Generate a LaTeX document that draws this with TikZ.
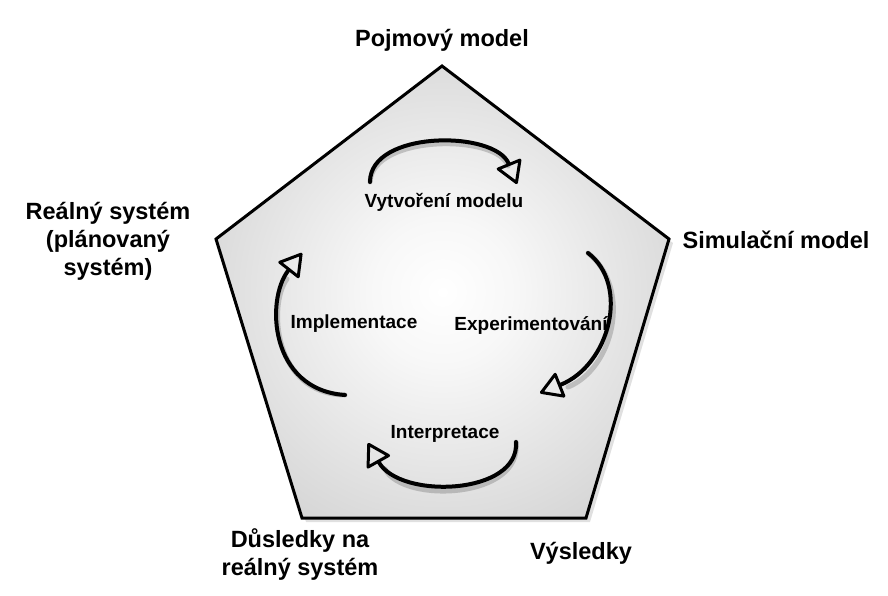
\documentclass[tikz,border=0pt]{standalone}
\usepackage{fontspec}
\setmainfont{Liberation Sans}
\usetikzlibrary{arrows.meta,shadows}
\definecolor{edgegray}{RGB}{178,178,178}
\pgfdeclareradialshading{pentshade}{\pgfpoint{0bp}{0bp}}{color(0bp)=(white); color(8bp)=(white!97!black); color(52bp)=(edgegray); color(100bp)=(edgegray)}
\tikzset{
  outer/.style={font=\fontsize{23.5}{28}\selectfont\bfseries, align=center, inner sep=0pt},
  inner/.style={font=\fontsize{19}{22}\selectfont\bfseries, inner sep=0pt},
  cyc/.style={line width=4pt, line cap=round, -{Triangle[open, length=24pt, width=28pt, line width=3pt, round]}},
  cycshadow/.style={line width=5pt, line cap=round, black, opacity=0.18},
}
\begin{document}
\begin{tikzpicture}[x=1pt,y=-1pt]
\useasboundingbox (0,0) rectangle (888,595);
% pentagon corners
\coordinate (T) at (442,66);
\coordinate (R) at (669,239);
\coordinate (BR) at (586,518);
\coordinate (BL) at (302,518);
\coordinate (L) at (216,239);
% shadow
\fill[black, opacity=0.12] ([shift={(4,4)}]T) -- ([shift={(4,4)}]R) -- ([shift={(4,4)}]BR) -- ([shift={(4,4)}]BL) -- ([shift={(4,4)}]L) -- cycle;
\shade[shading=pentshade] (T) -- (R) -- (BR) -- (BL) -- (L) -- cycle;
\draw[line width=3pt, line join=miter] (T) -- (R) -- (BR) -- (BL) -- (L) -- cycle;

% outer labels
\node[outer] (pm) at (442,40) {Pojmový model};
\node[outer] (sm) at (776,240) {Simulační model};
\node[outer] (rs) at (108,241) {Reálný systém\\(plánovaný\\systém)};
\node[outer] (ds) at (300,554) {Důsledky na\\reálný systém};
\node[outer] (vy) at (581,553) {Výsledky};

% inner labels
\node[inner] (vm) at (444,202) {Vytvoření modelu};
\node[inner] (ex) at (531,325) {Experimentování};
\node[inner] (im) at (354,324) {Implementace};
\node[inner] (ip) at (445,434) {Interpretace};

% cycle arrows: endpoints
\coordinate (a1s) at (370,182); \coordinate (a1e) at (517,184);
\coordinate (a2s) at (588,253); \coordinate (a2e) at (540,393);
\coordinate (a3s) at (516,442); \coordinate (a3e) at (368,443);
\coordinate (a4s) at (345,395); \coordinate (a4e) at (302,253);

% shadows of arcs
\begin{scope}[shift={(3,4)}]
\draw[cycshadow] (a1s) .. controls (370,130) and (495,130) .. (505,162);
\draw[cycshadow] (a2s) .. controls (630,285) and (610,365) .. (565,383);
\draw[cycshadow] (a3s) .. controls (520,495) and (400,500) .. (382,465);
\draw[cycshadow] (a4s) .. controls (270,390) and (265,300) .. (284,275);
\end{scope}

\draw[cyc] (a1s) .. controls (370,130) and (495,130) .. (a1e);
\draw[cyc] (a2s) .. controls (630,285) and (610,365) .. (a2e);
\draw[cyc] (a3s) .. controls (520,495) and (400,500) .. (a3e);
\draw[cyc] (a4s) .. controls (270,390) and (265,300) .. (a4e);
\end{tikzpicture}
\end{document}
